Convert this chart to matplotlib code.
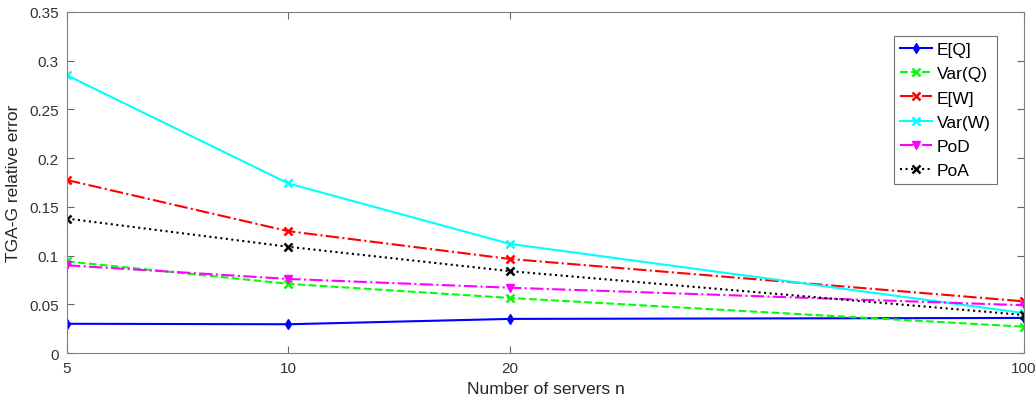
import matplotlib
matplotlib.use('Agg')
import matplotlib.pyplot as plt

plt.rcParams['font.family'] = ['Liberation Sans', 'DejaVu Sans']

servers = [5, 10, 20, 100]
eq = [0.030, 0.0295, 0.035, 0.036]
varq = [0.094, 0.071, 0.0565, 0.027]
ew = [0.1775, 0.125, 0.0965, 0.053]
varw = [0.285, 0.174, 0.112, 0.041]
pod = [0.090, 0.076, 0.067, 0.049]
poa = [0.138, 0.109, 0.084, 0.039]

fig = plt.figure(figsize=(10.35, 4.02), dpi=100)
ax = fig.add_axes([0.0647, 0.1194, 0.9247, 0.8483])

ax.plot(servers, eq, color=(0, 0, 1), ls='-', marker='d', ms=5, lw=1.5, label='E[Q]')
ax.plot(servers, varq, color=(0, 1, 0), ls='--', marker='x', ms=6, mew=1.8, lw=1.5, label='Var(Q)')
ax.plot(servers, ew, color=(1, 0, 0), ls='-.', marker='x', ms=6, mew=1.8, lw=1.5, label='E[W]')
ax.plot(servers, varw, color=(0, 1, 1), ls='-', marker='x', ms=6, mew=1.8, lw=1.5, label='Var(W)')
ax.plot(servers, pod, color=(1, 0, 1), ls='-.', marker='v', ms=6, lw=1.5, label='PoD')
ax.plot(servers, poa, color='k', ls=':', marker='x', ms=6, mew=1.8, lw=1.5, label='PoA')

ax.set_xscale('log')
ax.set_xlim(5, 100)
ax.set_ylim(0, 0.35)
ax.set_xticks(servers)
ax.set_xticklabels([str(s) for s in servers])
ax.minorticks_off()
ax.set_yticks([0, 0.05, 0.1, 0.15, 0.2, 0.25, 0.3, 0.35])
ax.set_yticklabels(['0', '0.05', '0.1', '0.15', '0.2', '0.25', '0.3', '0.35'])
ax.tick_params(direction='in', top=True, right=True, labelsize=11, colors='0.4',
               labelcolor='0.2', length=5, pad=6)
for s in ax.spines.values():
    s.set_color('0.5')
    s.set_linewidth(0.8)

ax.set_xlabel('Number of servers n', fontsize=12.5, color='0.15', labelpad=4)
ax.set_ylabel('TGA-G relative error', fontsize=12.5, color='0.15', labelpad=6)

leg = ax.legend(loc='upper right', bbox_to_anchor=(0.963, 0.908), bbox_transform=fig.transFigure,
                fontsize=12.5, fancybox=False, framealpha=1, edgecolor='0.45',
                handlelength=1.85, handletextpad=0.25, labelspacing=0.52, borderpad=0.35,
                borderaxespad=0)
leg.get_frame().set_linewidth(0.8)

plt.savefig('out.png', dpi=100)
